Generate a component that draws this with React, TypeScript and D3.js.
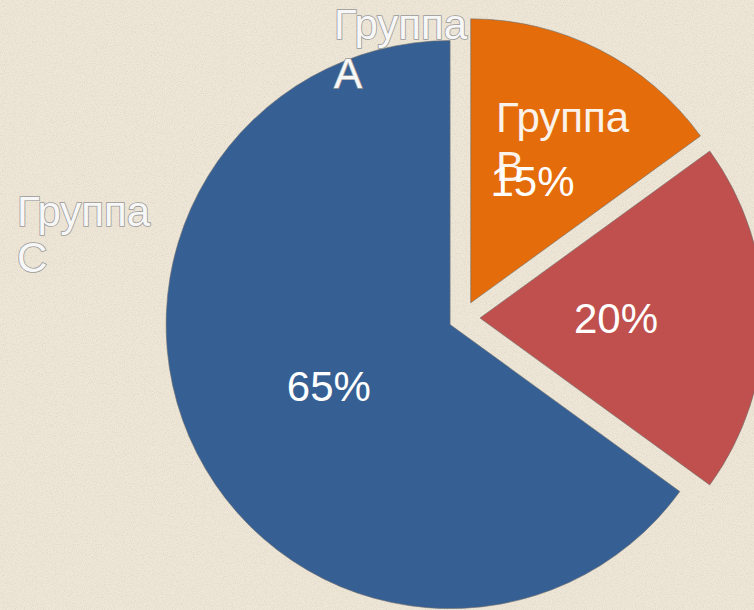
import React from 'react';
import * as d3 from 'd3';

// Data (clockwise from 12 o'clock)
const sliceKeys = ['B', 'X', 'A'];
const values = [15, 20, 65];
const percentLabels = ['15%', '20%', '65%'];
const colors = ['#E46C0A', '#C0504D', '#365F93'];

// Category labels as drawn (two lines each)
const categoryLabels = [
  ['Группа', 'A'],
  ['Группа', 'B'],
  ['Группа', 'C'],
];

const W = 754;
const H = 610;
const CX = 463;
const CY = 318;
const R = 284;
const explode = [17, 17, 14.5];
const pctRadius = 136;
const FONT = '"Liberation Sans", Arial, sans-serif';
const FS = 42;

// category label anchors relative to pie centre (left/baseline of first line)
const catLayout = [
  { dx: -129, dy: -279, lh: 49 },
  { dx: 33, dy: -186, lh: 49 },
  { dx: -446, dy: -92, lh: 46 },
];

export default function App() {
  const pie = d3.pie<number>().sort(null).startAngle(0).endAngle(2 * Math.PI);
  const arcs = pie(values);
  const arc = d3.arc<d3.PieArcDatum<number>>().innerRadius(0).outerRadius(R);

  const offsets = arcs.map((a, i) => {
    const mid = (a.startAngle + a.endAngle) / 2;
    return { x: Math.sin(mid) * explode[i], y: -Math.cos(mid) * explode[i], mid };
  });

  const outlineText = {
    fill: '#f7f7f7',
    stroke: '#9a9a9a',
    strokeWidth: 1.6,
    paintOrder: 'stroke',
  } as React.CSSProperties;

  return (
    <svg
      width={W}
      height={H}
      style={{ position: 'fixed', left: 0, top: 0, display: 'block' }}
      fontFamily={FONT}
    >
      <defs>
        <filter id="paper" x="0" y="0" width="100%" height="100%">
          <feTurbulence type="fractalNoise" baseFrequency="0.9" numOctaves="2" seed="3" result="n" />
          <feColorMatrix
            in="n"
            type="matrix"
            values="0 0 0 0 0.55  0 0 0 0 0.5  0 0 0 0 0.42  0 0 0 -2.2 1.25"
          />
        </filter>
      </defs>
      <rect width={W} height={H} fill="#EEE6D6" />
      <rect width={W} height={H} filter="url(#paper)" opacity={0.35} />

      {arcs.map((a, i) => (
        <path
          key={sliceKeys[i]}
          d={arc(a) || ''}
          transform={`translate(${CX + offsets[i].x},${CY + offsets[i].y})`}
          fill={colors[i]}
          stroke="#6f6f6f"
          strokeOpacity={0.6}
          strokeWidth={1}
        />
      ))}

      {categoryLabels.map((lines, i) => (
        <text
          key={'c' + i}
          x={CX + catLayout[i].dx}
          y={CY + catLayout[i].dy}
          fontSize={FS}
          style={i === 1 ? { fill: '#fbf3ea' } : outlineText}
        >
          {lines.map((l, j) => (
            <tspan key={j} x={CX + catLayout[i].dx} dy={j === 0 ? 0 : catLayout[i].lh}>
              {l}
            </tspan>
          ))}
        </text>
      ))}

      {arcs.map((a, i) => {
        const x = CX + offsets[i].x + Math.sin(offsets[i].mid) * pctRadius;
        const y = CY + offsets[i].y - Math.cos(offsets[i].mid) * pctRadius;
        return (
          <text
            key={'p' + i}
            x={x}
            y={y}
            fontSize={FS}
            textAnchor="middle"
            dominantBaseline="central"
            fill="#ffffff"
          >
            {percentLabels[i]}
          </text>
        );
      })}
    </svg>
  );
}
